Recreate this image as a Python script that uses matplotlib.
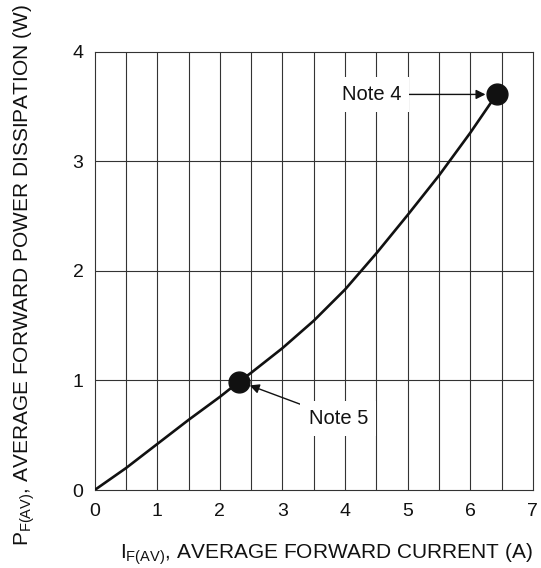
import matplotlib
matplotlib.use("Agg")
import matplotlib.pyplot as plt

plt.rcParams['font.family'] = ['Liberation Sans', 'DejaVu Sans']
plt.rcParams['mathtext.fontset'] = 'custom'
plt.rcParams['mathtext.rm'] = 'Liberation Sans'

# curve
current = [0, 0.5, 1, 1.5, 2, 2.31, 2.5, 3, 3.5, 4, 4.5, 5, 5.5, 6, 6.42]
power = [0, 0.2, 0.42, 0.64, 0.85, 0.99, 1.07, 1.295, 1.545, 1.83, 2.16, 2.51, 2.87, 3.26, 3.61]

# marked points
note_labels = ["Note 5", "Note 4"]
note_x = [2.31, 6.42]
note_y = [0.99, 3.61]
note_text_x = [3.89, 4.42]
note_text_y = [0.654, 3.61]

x_ticks = [0, 1, 2, 3, 4, 5, 6, 7]
y_ticks = [0, 1, 2, 3, 4]

fig = plt.figure(figsize=(5.41, 5.68), dpi=100)
ax = fig.add_axes([0.175, 0.1373, 0.81, 0.7717])

# grid: verticals every 0.5 A, horizontals every 1 W
for gx in [i * 0.5 for i in range(1, 14)]:
    ax.axvline(gx, color='#333333', lw=0.8, zorder=1)
for gy in [1, 2, 3]:
    ax.axhline(gy, color='#333333', lw=0.8, zorder=1)

ax.plot(current, power, color='#111111', lw=1.9, zorder=3, solid_joinstyle='round')
ax.plot(note_x, note_y, 'o', color='#111111', markersize=15, zorder=4)

for lab, px, py, tx, ty in zip(note_labels, note_x, note_y, note_text_x, note_text_y):
    ax.annotate(lab, xy=(px, py), xytext=(tx, ty), fontsize=14.5,
                ha='center', va='center', color='#111111', zorder=5,
                bbox=dict(facecolor='white', edgecolor='none', pad=6),
                arrowprops=dict(arrowstyle='-|>', color='#111111', lw=1.0,
                                mutation_scale=14, shrinkA=0, shrinkB=8))

ax.set_xlim(0, 7)
ax.set_ylim(0, 4)
ax.set_xticks(x_ticks)
ax.set_yticks(y_ticks)
ax.tick_params(length=0, labelsize=14, colors='#111111')
ax.tick_params(axis='x', pad=9)
ax.tick_params(axis='y', pad=8)
for s in ax.spines.values():
    s.set_color('#333333')
    s.set_linewidth(0.8)

ax.set_xlabel(r"$\mathregular{I_{F(AV)}}$, AVERAGE FORWARD CURRENT (A)",
              fontsize=15, loc='right', labelpad=16, color='#111111')
ax.set_ylabel(r"$\mathregular{P_{F(AV)}}$, AVERAGE FORWARD POWER DISSIPATION (W)",
              fontsize=15, color='#111111')
ax.yaxis.set_label_coords(-0.132, 0.49)

fig.savefig("out.png", dpi=100)
